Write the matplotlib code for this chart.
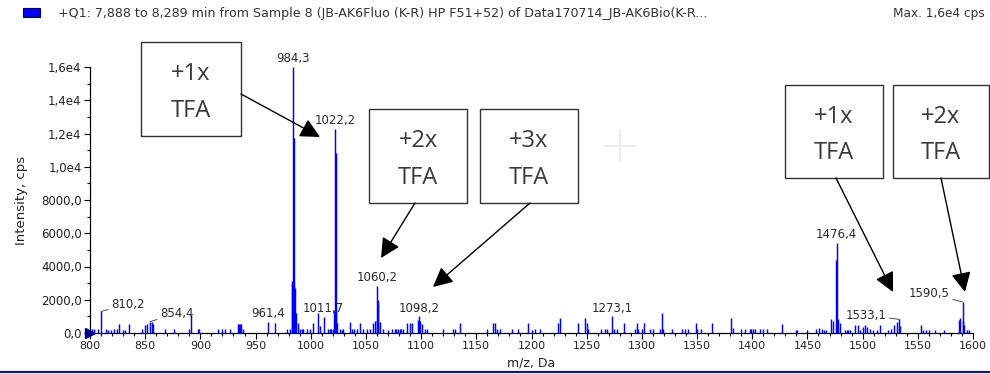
import matplotlib
matplotlib.use("Agg")
import matplotlib.pyplot as plt
from matplotlib.patches import Rectangle, FancyArrowPatch
from matplotlib.lines import Line2D
from matplotlib.transforms import Affine2D
from matplotlib.ticker import MultipleLocator, FixedLocator, FuncFormatter

# ---------------- data ----------------
mz = [801.5, 803.9, 807.0, 810.2, 814.2, 816.6, 819.0, 822.0, 824.5, 826.6, 830.2, 831.7, 835.0,
      846.8, 849.8, 851.6, 854.4, 855.9, 857.4, 868.0, 876.4, 890.0, 891.8, 898.0, 899.2,
      916.2, 919.3, 922.3, 926.8, 934.3, 935.2, 936.0, 937.0, 938.3,
      961.4, 967.6, 978.2, 981.2, 982.6, 983.1, 983.6, 984.3, 984.7, 985.2, 985.7, 986.3,
      988.7, 990.2, 991.7, 993.2, 996.2, 999.3, 1002.3, 1006.8, 1008.3, 1011.7,
      1015.6, 1017.0, 1018.5, 1020.0, 1021.3, 1021.8, 1022.2, 1022.7, 1023.3, 1023.9,
      1026.4, 1028.0, 1029.5, 1035.5, 1037.0, 1038.8, 1041.5, 1044.6, 1047.6, 1050.6,
      1053.6, 1056.6, 1058.2, 1059.6, 1060.2, 1060.7, 1061.2, 1062.7, 1065.7, 1070.2,
      1073.2, 1076.0, 1077.5, 1079.0, 1080.5, 1082.0, 1083.8, 1086.8, 1089.9, 1091.4,
      1097.6, 1098.2, 1099.0, 1100.4, 1103.4, 1105.0,
      1120.0, 1129.0, 1130.6, 1135.1, 1159.3, 1165.3, 1166.8, 1168.4, 1171.4, 1182.0,
      1188.0, 1196.5, 1200.1, 1203.1, 1207.6, 1224.2, 1225.7, 1242.3, 1248.4, 1249.9,
      1251.4, 1262.9, 1266.5, 1268.0, 1273.1,
      1274.6, 1277.6, 1283.7, 1293.7, 1295.2, 1296.7, 1299.7, 1302.1, 1307.2, 1310.3,
      1316.4, 1317.8, 1319.3, 1326.9, 1336.0, 1338.9, 1341.4, 1348.9, 1350.0, 1354.0,
      1363.1, 1381.2, 1382.7, 1389.7, 1393.3, 1397.8, 1399.3, 1400.8, 1402.4, 1406.9,
      1409.9, 1413.0, 1427.4,
      1439.5, 1440.5, 1449.2, 1458.2, 1460.6, 1462.8, 1465.0, 1467.0, 1471.8, 1473.3,
      1476.0, 1476.4, 1477.8, 1479.3, 1484.0, 1485.5, 1487.0, 1488.4, 1493.0, 1496.0,
      1497.4, 1500.5, 1502.0, 1504.1, 1506.5, 1509.0, 1512.6, 1515.6, 1523.1, 1525.5,
      1528.3, 1531.3, 1533.1, 1534.0, 1553.3, 1554.5, 1557.8, 1560.5, 1565.4, 1573.6,
      1587.4, 1588.6, 1590.5, 1591.2, 1592.0, 1594.3, 1596.8]

intensity = [240, 240, 240, 1300, 240, 200, 200, 240, 240, 560, 200, 200, 560,
             240, 480, 560, 680, 680, 560, 240, 240, 240, 1060, 240, 240,
             240, 240, 240, 240, 560, 560, 560, 560, 240,
             660, 580, 240, 240, 3100, 3000, 2900, 16000, 11700, 2900, 2700, 1200,
             580, 240, 240, 240, 240, 240, 580, 1220, 400, 960,
             240, 240, 240, 240, 1350, 1300, 12300, 10800, 1400, 600,
             240, 200, 240, 640, 240, 240, 240, 580, 240, 240,
             240, 580, 740, 800, 2850, 2000, 1700, 640, 240, 200,
             240, 240, 240, 240, 240, 240, 240, 580, 580, 580,
             800, 1000, 720, 520, 240, 240,
             240, 240, 240, 580, 240, 580, 580, 240, 240, 240,
             240, 580, 200, 240, 240, 580, 900, 580, 900, 580,
             240, 240, 240, 240, 1000,
             240, 240, 580, 240, 580, 240, 240, 580, 240, 240,
             240, 1200, 240, 240, 240, 240, 240, 580, 240, 240,
             580, 900, 300, 240, 240, 240, 240, 240, 240, 240,
             240, 240, 560,
             200, 200, 200, 260, 300, 260, 200, 200, 860, 700,
             4400, 5400, 860, 600, 200, 200, 200, 200, 500, 500,
             200, 340, 500, 360, 260, 200, 200, 500, 200, 260,
             500, 660, 820, 450, 460, 200, 200, 200, 200, 200,
             760, 900, 1870, 700, 500, 200, 200]

label_mz = [810.2, 854.4, 961.4, 984.3, 1011.7, 1022.2, 1060.2, 1098.2, 1273.1, 1476.4, 1533.1, 1590.5]
label_text = ["810,2", "854,4", "961,4", "984,3", "1011,7", "1022,2", "1060,2", "1098,2",
              "1273,1", "1476,4", "1533,1", "1590,5"]

ytick_vals = [0, 2000, 4000, 6000, 8000, 10000, 12000, 14000, 16000]
ytick_labels = ["0,0", "2000,0", "4000,0", "6000,0", "8000,0", "1,0e4", "1,2e4", "1,4e4", "1,6e4"]

box_texts = ["+1x\nTFA", "+2x\nTFA", "+3x\nTFA", "+1x\nTFA", "+2x\nTFA"]

title = "+Q1: 7,888 to 8,289 min from Sample 8 (JB-AK6Fluo (K-R) HP F51+52) of Data170714_JB-AK6Bio(K-R..."
max_text = "Max. 1,6e4 cps"

# ---------------- figure ----------------
W, H = 990, 374
fig = plt.figure(figsize=(W / 100, H / 100), dpi=100)
fig.patch.set_facecolor("white")
px = Affine2D().scale(1 / W, -1 / H).translate(0, 1) + fig.transFigure

ax = fig.add_axes([90 / W, 1 - 333 / H, (973 - 90) / W, (333 - 67) / H])
ax.set_xlim(800, 1600)
ax.set_ylim(0, 16000)
ax.vlines(mz, 0, intensity, colors="#0000ff", linewidth=1.05, clip_on=False, zorder=3)

for s in ["top", "right"]:
    ax.spines[s].set_visible(False)
for s in ["left", "bottom"]:
    ax.spines[s].set_linewidth(0.9)
    ax.spines[s].set_color("black")

ax.yaxis.set_major_locator(FixedLocator(ytick_vals))
ax.set_yticklabels(ytick_labels)
ax.yaxis.set_minor_locator(MultipleLocator(1000))
ax.xaxis.set_major_locator(MultipleLocator(50))
ax.xaxis.set_minor_locator(MultipleLocator(10))
ax.xaxis.set_major_formatter(FuncFormatter(lambda v, p: f"{v:.0f}"))
ax.tick_params(axis="both", which="major", length=4, width=0.8, labelsize=8, direction="out",
               pad=2, labelcolor="#222222")
ax.tick_params(axis="y", which="major", labelsize=8.5)
ax.tick_params(axis="both", which="minor", length=2, width=0.8, direction="out")
ax.set_xlabel("m/z, Da", fontsize=9, labelpad=4, color="#222222")
ax.set_ylabel("Intensity, cps", fontsize=9.5, labelpad=9, color="#222222")

# origin marker
ax.plot([800], [0], marker=">", color="#00008b", markersize=7, clip_on=False, zorder=4)

# peak labels
leader = {810.2: (7, 5, "left"), 854.4: (7, 6, "left"), 1533.1: (-9, 3, "right"), 1590.5: (-9, 6, "right")}
for m, t in zip(label_mz, label_text):
    h = max(v for x, v in zip(mz, intensity) if abs(x - m) < 0.05)
    if m in leader:
        dx, dy, ha = leader[m]
        ax.annotate(t, xy=(m, h), xytext=(dx, dy), textcoords="offset points", ha=ha, va="center",
                    fontsize=8.5, color="#2a2a2a",
                    arrowprops=dict(arrowstyle="-", color="#333333", lw=0.6, shrinkA=0, shrinkB=0))
    else:
        ax.annotate(t, xy=(m, h), xytext=(0, 6), textcoords="offset points", ha="center", va="center",
                    fontsize=8.5, color="#2a2a2a")

# title and legend square
fig.add_artist(Rectangle((23, 8), 17, 9, transform=px, facecolor="#0000ff", edgecolor="#000040", lw=0.8))
fig.text(58 / W, 1 - 13 / H, title, fontsize=9.1, color="#333333", va="center", ha="left")
fig.text(985 / W, 1 - 13 / H, max_text, fontsize=8.7, color="#333333", va="center", ha="right")

# bottom navy line
fig.add_artist(Line2D([0, W], [372, 372], transform=px, color="#1a1a6e", lw=1.6))

# faint cursor cross
fig.add_artist(Line2D([605, 635], [146, 146], transform=px, color="#ececec", lw=1.5))
fig.add_artist(Line2D([620, 620], [131, 161], transform=px, color="#ececec", lw=1.5))

# annotation boxes (left, top, right, bottom in pixels)
boxes = [(141, 42, 241, 136), (369, 109, 467, 203), (480, 109, 578, 203),
         (785, 85, 883, 178), (893, 85, 989, 178)]
for (l, t, r, b), txt in zip(boxes, box_texts):
    fig.add_artist(Rectangle((l, t), r - l, b - t, transform=px, facecolor="white",
                             edgecolor="#333333", lw=1.0, zorder=5))
    top, bottom = txt.split("\n")
    cx = (l + r) / 2
    fig.text(cx / W, 1 - (t + 0.34 * (b - t)) / H, top, fontsize=17, family="Open Sans",
             color="#3a3a3a", ha="center", va="center", zorder=6)
    fig.text(cx / W, 1 - (t + 0.73 * (b - t)) / H, bottom, fontsize=17, family="Open Sans",
             color="#3a3a3a", ha="center", va="center", zorder=6)

arrows = [((241, 94), (320, 137)), ((415, 203), (381, 258)), ((530, 203), (433, 287)),
          ((836, 178), (893, 292)), ((941, 178), (965, 292))]
for a, b in arrows:
    fig.add_artist(FancyArrowPatch(a, b, transform=px, arrowstyle="-|>,head_length=0.5,head_width=0.25",
                                   mutation_scale=24, color="black", lw=1.0, shrinkA=0, shrinkB=0,
                                   zorder=7))

fig.savefig("out.png", dpi=100)
